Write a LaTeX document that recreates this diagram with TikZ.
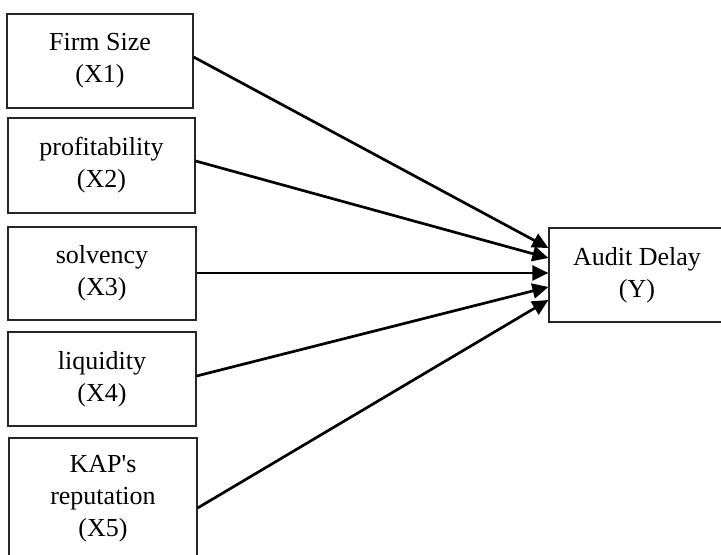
\documentclass[tikz,border=0pt]{standalone}
\usepackage{fontspec}
\setmainfont{Liberation Serif}
\newfontfamily\plainserif{Liberation Serif}[Ligatures=ResetAll]
\usetikzlibrary{arrows.meta}
\begin{document}
\begin{tikzpicture}[x=0.5pt,y=-0.5pt,
  varbox/.style={draw=black!85,line width=0.6pt,inner sep=0pt,align=center,
    font=\fontsize{13}{16}\selectfont},
  link/.style={line width=1.35pt,-{Triangle[length=8pt,width=7.5pt]}}]
\useasboundingbox (0,0) rectangle (721,555);
\clip (0,0) rectangle (721,555);
\node[varbox,minimum width=93pt,minimum height=47pt] (b1) at (100,61) {Firm Size\\(X1)};
\node[varbox,minimum width=93.5pt,minimum height=47.5pt] (b2) at (101.5,165.5) {profitability\\(X2)};
\node[varbox,minimum width=94pt,minimum height=46.5pt] (b3) at (102,273.5) {solvency\\(X3)};
\node[varbox,minimum width=94pt,minimum height=47pt] (b4) at (102,379) {liquidity\\(X4)};
\node[varbox,minimum width=94pt,minimum height=61pt] (b5) at (103,499) {KAP{\plainserif '}s\\reputation\\(X5)};
\node[varbox,minimum width=88pt,minimum height=47pt] (y) at (637,275) {Audit Delay\\(Y)};
\draw[link] ([yshift=2pt]b1.east) -- ([yshift=13.5pt]y.west);
\draw[link] ([yshift=2.25pt]b2.east) -- ([yshift=8.5pt]y.west);
\draw[link] ([yshift=0.25pt]b3.east) -- ([yshift=1pt]y.west);
\draw[link] ([yshift=1.5pt]b4.east) -- ([yshift=-6pt]y.west);
\draw[link] ([yshift=-4.5pt]b5.east) -- ([yshift=-12.5pt]y.west);
\end{tikzpicture}
\end{document}
